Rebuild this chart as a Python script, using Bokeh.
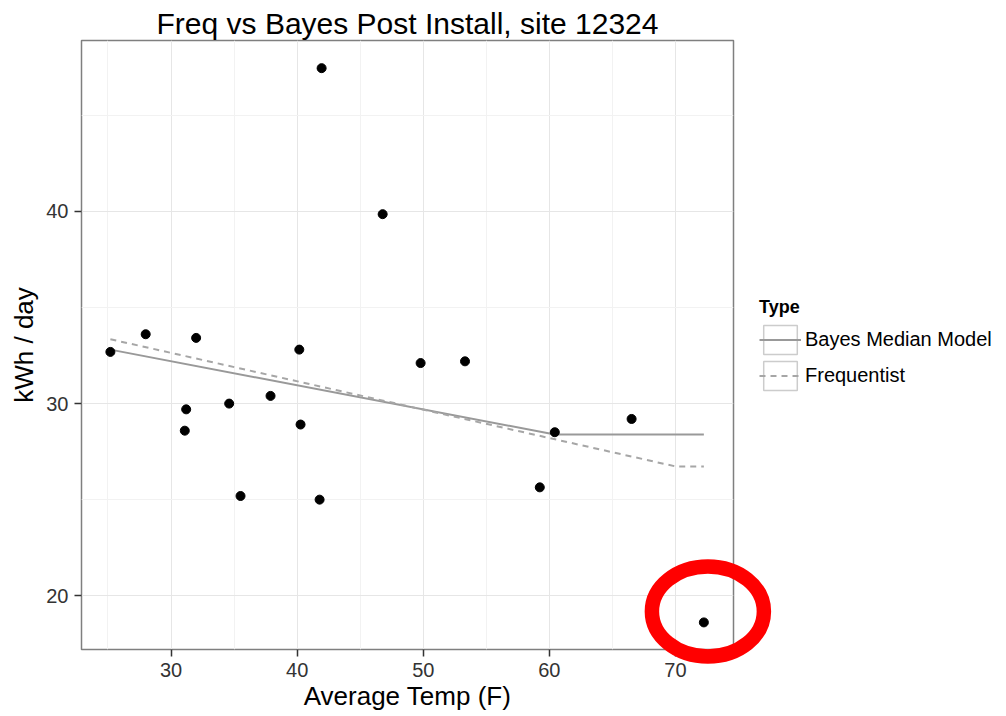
import numpy as np
from bokeh.plotting import figure
from bokeh.models import Range1d, Legend, LegendItem, FixedTicker, GridBox
from bokeh.embed import file_html
from bokeh.resources import INLINE

FONT = "Liberation Sans"

# observed points
temp = [25.19, 27.99, 31.99, 31.20, 31.09, 34.61, 35.51, 37.89, 40.17, 40.27,
        41.78, 41.94, 46.78, 49.79, 53.31, 59.24, 60.43, 66.52, 72.25]
kwh = [32.69, 33.61, 33.42, 29.70, 28.59, 30.00, 25.19, 30.40, 32.81, 28.91,
       25.00, 47.46, 39.86, 32.11, 32.20, 25.64, 28.51, 29.20, 18.61]

# model lines
bayes_temp = [25.19, 60.43, 72.25]
bayes_kwh = [32.81, 28.39, 28.39]
freq_temp = [25.19, 70.0, 72.25]
freq_kwh = [33.35, 26.73, 26.73]

x_ticks = [30, 40, 50, 60, 70]
x_minor = [25, 35, 45, 55, 65]
y_ticks = [20, 30, 40]
y_minor = [25, 35, 45]

series_labels = ["Bayes Median Model", "Frequentist"]

# highlight ring around the outlier (offset / radii in data units)
hl_dx, hl_dy, hl_rx, hl_ry = 0.32, 0.57, 4.44, 2.34

# layout (pixels) and axis limits
W, H = 1006, 716
FRAME_W, FRAME_H = 652, 609
B_LEFT, B_TOP = 81, 40
B_RIGHT = W - B_LEFT - FRAME_W
B_BOTTOM = H - B_TOP - FRAME_H
X0, X1 = 22.9, 74.6
Y0, Y1 = 17.2, 48.9

p = figure(frame_width=FRAME_W, frame_height=FRAME_H,
           min_border_left=B_LEFT, min_border_right=B_RIGHT,
           min_border_top=B_TOP, min_border_bottom=B_BOTTOM,
           x_range=Range1d(X0, X1), y_range=Range1d(Y0, Y1),
           title="Freq vs Bayes Post Install, site 12324",
           x_axis_label="Average Temp (F)", y_axis_label="kWh / day",
           output_backend="svg", toolbar_location=None)

p.background_fill_color = "white"
p.border_fill_color = "white"
p.outline_line_color = "#7f7f7f"
p.outline_line_width = 1.5

p.title.align = "center"
p.title.text_font = FONT
p.title.text_font_size = "30px"
p.title.text_font_style = "normal"
p.title.text_color = "black"
p.title.standoff = 2

p.xaxis.ticker = FixedTicker(ticks=x_ticks, minor_ticks=x_minor)
p.yaxis.ticker = FixedTicker(ticks=y_ticks, minor_ticks=y_minor)
for ax in (p.xaxis[0], p.yaxis[0]):
    ax.axis_line_color = None
    ax.major_tick_out = 7
    ax.major_tick_in = 0
    ax.major_tick_line_color = "#333333"
    ax.major_tick_line_width = 1.5
    ax.minor_tick_line_color = None
    ax.major_label_text_font = FONT
    ax.major_label_text_font_size = "20px"
    ax.major_label_text_color = "#333333"
    ax.major_label_standoff = 6
    ax.axis_label_text_font = FONT
    ax.axis_label_text_font_size = "26px"
    ax.axis_label_text_font_style = "normal"
    ax.axis_label_text_color = "black"
p.xaxis[0].axis_label_standoff = 1
p.yaxis[0].axis_label_standoff = 4

for g in (p.xgrid[0], p.ygrid[0]):
    g.grid_line_color = "#e6e6e6"
    g.grid_line_width = 1
    g.minor_grid_line_color = "#f2f2f2"
    g.minor_grid_line_width = 1

bayes_r = p.line(bayes_temp, bayes_kwh, line_color="#999999", line_width=2)
freq_r = p.line(freq_temp, freq_kwh, line_color="#a6a6a6", line_width=2,
                line_dash="6 5")
p.scatter(temp, kwh, size=9, color="black")

# legend key boxes (proxy renderer with no visible data, only drawn in legend)
key_box = p.quad(left=[np.nan], right=[np.nan], top=[np.nan], bottom=[np.nan],
                 fill_color=None, line_color="#cccccc", line_width=1.5)

legend = Legend(
    items=[LegendItem(label=series_labels[0], renderers=[key_box, bayes_r]),
           LegendItem(label=series_labels[1], renderers=[key_box, freq_r])],
    title="Type", location="center_left",
    glyph_width=42, glyph_height=36, spacing=0, label_standoff=4,
    padding=5, margin=21,
    border_line_alpha=0, background_fill_alpha=0,
    label_text_font=FONT, label_text_font_size="20px", label_text_color="black",
    title_text_font=FONT, title_text_font_size="18px", title_text_color="black",
    title_text_font_style="bold", title_standoff=4,
)
p.add_layout(legend, "right")

# transparent overlay in the same grid cell; the grid aligns its frame with
# the main panel's frame, so it shares the data->pixel mapping while its
# larger frame lets the red highlight ring spill over the panel border
sx = FRAME_W / (X1 - X0)
sy = FRAME_H / (Y1 - Y0)
ov = figure(frame_width=W, frame_height=H, min_border=0,
            x_range=Range1d(X0, X0 + W / sx),
            y_range=Range1d(Y1 - H / sy, Y1),
            x_axis_location=None, y_axis_location=None,
            output_backend="svg", toolbar_location=None)
ov.background_fill_alpha = 0
ov.border_fill_alpha = 0
ov.outline_line_color = None
ov.grid.visible = False

i = int(np.argmin(kwh))
ov.ellipse(x=[temp[i] + hl_dx], y=[kwh[i] + hl_dy],
           width=[2 * hl_rx], height=[2 * hl_ry],
           fill_color=None, line_color="#ff0000", line_width=14.5)

layout = GridBox(children=[(p, 0, 0), (ov, 0, 0)])

open("out.html", "w").write(file_html(layout, INLINE))
